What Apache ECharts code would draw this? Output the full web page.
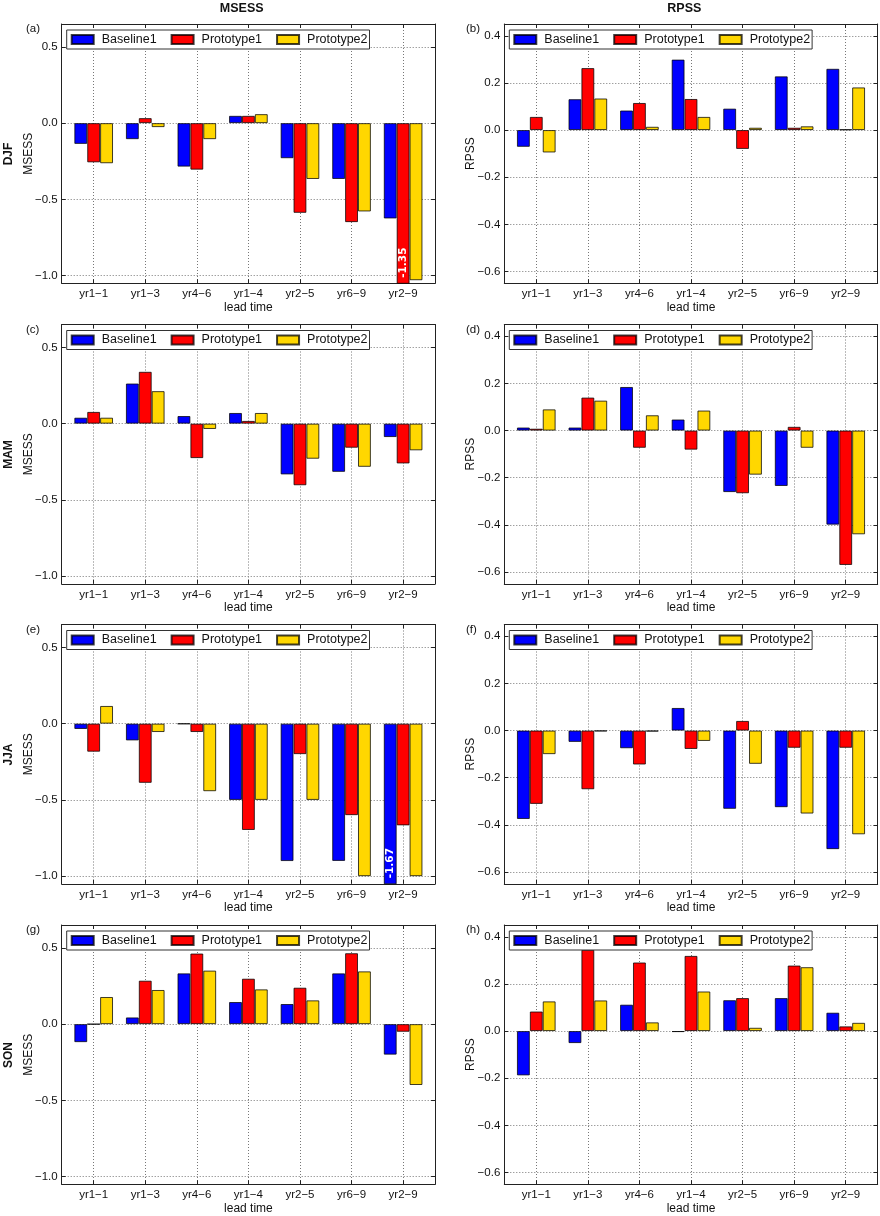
<!DOCTYPE html>
<html><head><meta charset="utf-8">
<script src="https://cdn.jsdelivr.net/npm/echarts@6/dist/echarts.min.js"></script>
<style>html,body{margin:0;padding:0;background:#fff}#c{width:880px;height:1216px}</style>
</head><body><div id="c"></div>
<script>
// ---------------- data ----------------
const categories = ['yr1\u22121','yr1\u22123','yr4\u22126','yr1\u22124','yr2\u22125','yr6\u22129','yr2\u22129'];
const models = ['Baseline1','Prototype1','Prototype2'];
const seasons = ['DJF','MAM','JJA','SON'];
const metrics = ['MSESS','RPSS'];
const panelLetters = ['(a)','(b)','(c)','(d)','(e)','(f)','(g)','(h)'];
const msessTicks = [-1.0,-0.5,0.0,0.5];
const rpssTicks = [-0.6,-0.4,-0.2,0.0,0.2,0.4];
const msessRange = [-1.05, 0.65];
const rpssRange = [-0.65, 0.45];
const xRange = [-0.62, 6.62];

const DJF_MSESS_Baseline1 = [-0.136,-0.105,-0.285,0.048,-0.230,-0.366,-0.625];
const DJF_MSESS_Prototype1 = [-0.257,0.033,-0.305,0.048,-0.588,-0.649,-1.35];
const DJF_MSESS_Prototype2 = [-0.263,-0.026,-0.105,0.059,-0.366,-0.579,-1.03];
const DJF_RPSS_Baseline1 = [-0.071,0.131,0.083,0.299,0.091,0.228,0.260];
const DJF_RPSS_Prototype1 = [0.056,0.263,0.115,0.132,-0.080,0.010,0.003];
const DJF_RPSS_Prototype2 = [-0.095,0.134,0.014,0.056,0.010,0.016,0.181];

const MAM_MSESS_Baseline1 = [0.039,0.263,0.050,0.070,-0.333,-0.316,-0.088];
const MAM_MSESS_Prototype1 = [0.077,0.340,-0.226,0.018,-0.404,-0.158,-0.261];
const MAM_MSESS_Prototype2 = [0.039,0.213,-0.035,0.070,-0.230,-0.283,-0.175];
const MAM_RPSS_Baseline1 = [0.013,0.013,0.185,0.047,-0.261,-0.235,-0.399];
const MAM_RPSS_Prototype1 = [0.008,0.140,-0.073,-0.081,-0.266,0.016,-0.570];
const MAM_RPSS_Prototype2 = [0.090,0.127,0.065,0.085,-0.187,-0.073,-0.440];

const JJA_MSESS_Baseline1 = [-0.035,-0.110,-0.002,-0.500,-0.901,-0.900,-1.67];
const JJA_MSESS_Prototype1 = [-0.184,-0.388,-0.055,-0.697,-0.200,-0.600,-0.667];
const JJA_MSESS_Prototype2 = [0.116,-0.055,-0.443,-0.500,-0.500,-1.000,-1.000];
const JJA_RPSS_Baseline1 = [-0.375,-0.048,-0.075,0.096,-0.332,-0.325,-0.503];
const JJA_RPSS_Prototype1 = [-0.311,-0.249,-0.144,-0.078,0.041,-0.073,-0.073];
const JJA_RPSS_Prototype2 = [-0.100,-0.003,-0.004,-0.044,-0.141,-0.352,-0.440];

const SON_MSESS_Baseline1 = [-0.118,0.044,0.333,0.145,0.132,0.333,-0.200];
const SON_MSESS_Prototype1 = [0.000,0.285,0.463,0.298,0.239,0.465,-0.050];
const SON_MSESS_Prototype2 = [0.178,0.224,0.351,0.228,0.156,0.346,-0.399];
const SON_RPSS_Baseline1 = [-0.188,-0.051,0.112,-0.004,0.131,0.140,0.078];
const SON_RPSS_Prototype1 = [0.083,0.345,0.291,0.319,0.140,0.278,0.020];
const SON_RPSS_Prototype2 = [0.126,0.130,0.037,0.168,0.014,0.271,0.035];

const panelValues = [
  [DJF_MSESS_Baseline1, DJF_MSESS_Prototype1, DJF_MSESS_Prototype2],
  [DJF_RPSS_Baseline1, DJF_RPSS_Prototype1, DJF_RPSS_Prototype2],
  [MAM_MSESS_Baseline1, MAM_MSESS_Prototype1, MAM_MSESS_Prototype2],
  [MAM_RPSS_Baseline1, MAM_RPSS_Prototype1, MAM_RPSS_Prototype2],
  [JJA_MSESS_Baseline1, JJA_MSESS_Prototype1, JJA_MSESS_Prototype2],
  [JJA_RPSS_Baseline1, JJA_RPSS_Prototype1, JJA_RPSS_Prototype2],
  [SON_MSESS_Baseline1, SON_MSESS_Prototype1, SON_MSESS_Prototype2],
  [SON_RPSS_Baseline1, SON_RPSS_Prototype1, SON_RPSS_Prototype2]
];

// ---------------- layout / style ----------------
const FONT = '"Liberation Sans", Arial, Helvetica, sans-serif';
const colors = ['#0000ff', '#ff0000', '#ffd700'];
const colLeft = [61.7, 504.3];
const plotW = 373.4;
const rowTop = [24, 324.5, 624.5, 925];
const plotH = 259.3;
const frame = { show: true, onZero: false, lineStyle: { color: '#222', width: 1 } };
const dotted = { show: true, lineStyle: { type: [1, 2], color: '#777', width: 1 } };
const xTickVals = categories.map((c, i) => i);
const fmtNum = v => (v < 0 ? '\u2212' : '') + Math.abs(v).toFixed(1);

const grid = [], xAxis = [], yAxis = [], series = [], legend = [], graphic = [];

for (let r = 0; r < 4; r++) {
  for (let c = 0; c < 2; c++) {
    const g = r * 2 + c;
    const isMsess = c === 0;
    const yr = isMsess ? msessRange : rpssRange;
    const yt = isMsess ? msessTicks : rpssTicks;
    grid.push({ left: colLeft[c], top: rowTop[r], width: plotW, height: plotH });
    xAxis.push({
      gridIndex: g, type: 'value', min: xRange[0], max: xRange[1], position: 'bottom',
      axisLine: frame,
      axisTick: { show: true, inside: true, length: 4, customValues: xTickVals, lineStyle: { color: '#222' } },
      axisLabel: { customValues: xTickVals, formatter: v => categories[Math.round(v)], margin: 5, fontSize: 11.5, color: '#111', fontFamily: FONT },
      splitLine: dotted,
      name: 'lead time', nameLocation: 'middle', nameGap: 18, nameMoveOverlap: false,
      nameTextStyle: { fontSize: 12, color: '#111', fontFamily: FONT }
    });
    xAxis.push({
      gridIndex: g, type: 'value', min: xRange[0], max: xRange[1], position: 'top',
      axisLine: frame,
      axisTick: { show: true, inside: true, length: 4, customValues: xTickVals, lineStyle: { color: '#222' } },
      axisLabel: { show: false }, splitLine: { show: false }
    });
    yAxis.push({
      gridIndex: g, type: 'value', min: yr[0], max: yr[1], position: 'left',
      axisLine: frame,
      axisTick: { show: true, inside: true, length: 4, customValues: yt, lineStyle: { color: '#222' } },
      axisLabel: { customValues: yt, formatter: fmtNum, margin: 4, fontSize: 11.5, color: '#111', fontFamily: FONT },
      splitLine: dotted,
      name: metrics[c], nameLocation: 'middle', nameRotate: 90, nameGap: isMsess ? 27 : 28, nameMoveOverlap: false,
      nameTextStyle: { fontSize: 12, color: '#111', fontFamily: FONT }
    });
    yAxis.push({
      gridIndex: g, type: 'value', min: yr[0], max: yr[1], position: 'right',
      axisLine: frame,
      axisTick: { show: true, inside: true, length: 4, customValues: yt, lineStyle: { color: '#222' } },
      axisLabel: { show: false }, splitLine: { show: false }
    });
    models.forEach((m, k) => {
      const vals = panelValues[g][k];
      series.push({
        type: 'bar', name: m, xAxisIndex: 2 * g, yAxisIndex: 2 * g,
        barWidth: '25%', barGap: '0%',
        itemStyle: { color: colors[k], borderColor: 'rgba(0,0,0,0.75)', borderWidth: 1 },
        emphasis: { disabled: true },
        data: vals.map((v, i) => v < yr[0] ? {
          value: [i, v],
          label: {
            show: true, position: 'insideBottom', distance: 6, rotate: 90,
            align: 'left', verticalAlign: 'middle',
            formatter: p => p.value[1].toFixed(2),
            color: '#fff', fontFamily: '"DejaVu Sans", sans-serif', fontWeight: 'bold', fontSize: 10.5
          }
        } : [i, v])
      });
    });
    legend.push({
      left: colLeft[c] + 5, top: rowTop[r] + 6, data: models, orient: 'horizontal',
      icon: 'rect', itemWidth: 22, itemHeight: 9, itemGap: 14, padding: [3, 2, 3, 4],
      backgroundColor: '#fff', borderColor: '#333', borderWidth: 1, selectedMode: false,
      textStyle: { fontSize: 12.5, color: '#111', fontFamily: FONT, padding: [0, 0, 0, 3] }
    });
    graphic.push({
      type: 'text', x: c === 0 ? 26 : 466, y: rowTop[r] + 5,
      style: { text: panelLetters[g], font: '11.5px ' + FONT, fill: '#111', textAlign: 'left', textVerticalAlign: 'middle' }
    });
  }
  graphic.push({
    type: 'text', x: 9, y: rowTop[r] + 130, rotation: Math.PI / 2,
    style: { text: seasons[r], font: 'bold 12px ' + FONT, fill: '#111', textAlign: 'center', textVerticalAlign: 'middle' }
  });
}
graphic.push({ type: 'text', x: 241.7, y: 8.5, style: { text: metrics[0], font: 'bold 12.5px ' + FONT, fill: '#111', textAlign: 'center', textVerticalAlign: 'middle' } });
graphic.push({ type: 'text', x: 684.3, y: 8.5, style: { text: metrics[1], font: 'bold 12.5px ' + FONT, fill: '#111', textAlign: 'center', textVerticalAlign: 'middle' } });

const chart = echarts.init(document.getElementById('c'), null, { renderer: 'canvas' });
chart.setOption({
  animation: false,
  backgroundColor: '#fff',
  textStyle: { fontFamily: FONT },
  grid, xAxis, yAxis, series, legend, graphic
});
</script>
</body></html>
